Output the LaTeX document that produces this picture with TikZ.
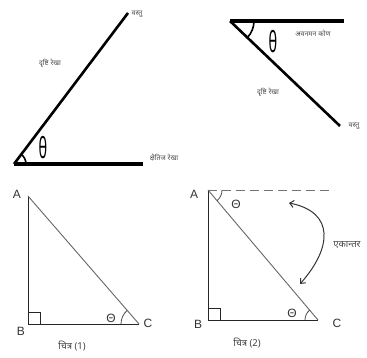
\documentclass[tikz,border=0pt]{standalone}
\usepackage{fontspec}
\setmainfont{Liberation Sans}
\newfontfamily\dev[Script=Devanagari]{Noto Sans}
\newfontfamily\thfont{Noto Sans}
\usetikzlibrary{angles,arrows.meta}
\tikzset{
  thickline/.style={line width=3.4pt,black},
  thinline/.style={line width=1pt,black!85},
  hypline/.style={line width=0.9pt,black!60},
  devlbl/.style={font=\dev\fontsize{7}{7}\selectfont,text=black!70,inner sep=0pt},
  devbig/.style={font=\dev\fontsize{9.5}{10}\selectfont,text=black!75,inner sep=0pt},
  ptlbl/.style={font=\fontsize{12}{12}\selectfont,text=black!80,inner sep=0pt},
  thsmall/.style={font=\fontsize{12}{12}\selectfont,text=black!80,inner sep=0pt},
  thbig/.style={font=\thfont\bfseries\fontsize{29}{29}\selectfont,inner sep=0pt},
  anglearc/.style={draw,line width=1.6pt},
  smallarc/.style={draw,line width=0.8pt,black!70},
}
\begin{document}
\begin{tikzpicture}[x=1pt,y=-1pt]
\useasboundingbox (0,0) rectangle (367,358);
% ---------- figure top-left ----------
\coordinate (V1) at (14,164);
\coordinate (H1) at (143,164);
\coordinate (T1) at (128,13);
\draw[thickline] (V1) -- (H1);
\draw[line width=2.6pt] (V1) -- (T1);
\pic[anglearc,angle radius=12pt] {angle=H1--V1--T1};
\node[thbig] (th1) at (43,148) {\scalebox{0.5}[1]{θ}};
\node[devlbl] (obj1) at (137,14) {वस्तु};
\node[devlbl] (los1) at (50,63) {दृष्टि रेखा};
\node[devlbl] (hor1) at (164,158) {क्षैतिज रेखा};
% ---------- figure top-right ----------
\coordinate (V2) at (230,21);
\coordinate (H2) at (344,21);
\coordinate (D2) at (340,126);
\draw[thickline] (V2) -- (H2);
\draw[line width=2.6pt] (V2) -- (D2);
\pic[anglearc,angle radius=24pt] {angle=D2--V2--H2};
\node[thbig] (th2) at (273,42) {\scalebox{0.5}[1]{θ}};
\node[devlbl] (dep) at (313,33) {अवनमन कोण};
\node[devlbl] (los2) at (268,92) {दृष्टि रेखा};
\node[devlbl] (obj2) at (354,126) {वस्तु};
% ---------- triangle 1 ----------
\coordinate (A1) at (28,196);
\coordinate (B1) at (28,324);
\coordinate (C1) at (139,324);
\draw[thinline] (A1) -- (B1) -- (C1);
\draw[hypline] (A1) -- (C1);
\draw[thinline] (B1) rectangle ++(12,-12);
\pic[smallarc,angle radius=18pt] {angle=A1--C1--B1};
\node[ptlbl] (lA1) at (17,194) {A};
\node[ptlbl] (lB1) at (21,331) {B};
\node[ptlbl] (lC1) at (148,323) {C};
\node[thsmall] (t1) at (111,318) {Θ};
\node[devbig] (cap1) at (72,346) {चित्र (1)};
% ---------- triangle 2 ----------
\coordinate (A2) at (208,190);
\coordinate (B2) at (208,320);
\coordinate (C2) at (318,320);
\coordinate (E2) at (334,190);
\draw[thinline] (A2) -- (B2) -- (C2);
\draw[hypline] (A2) -- (C2);
\draw[black!55,line width=0.9pt,dash pattern=on 9pt off 5pt] (A2) -- (E2);
\draw[thinline] (B2) rectangle ++(12,-12);
\pic[smallarc,angle radius=14pt] {angle=C2--A2--E2};
\pic[smallarc,angle radius=13pt] {angle=A2--C2--B2};
\node[ptlbl] (lA2) at (194,194) {A};
\node[ptlbl] (lB2) at (198,324) {B};
\node[ptlbl] (lC2) at (337,323) {C};
\node[thsmall] (t2) at (236,204) {Θ};
\node[thsmall] (t3) at (292,313) {Θ};
\node[devbig] (alt) at (347,245) {एकान्तर};
\node[devbig] (cap2) at (247,343) {चित्र (2)};
\coordinate (P1) at (289,203);
\coordinate (P2) at (300,284);
\draw[line width=1pt,black!80,{Straight Barb[length=4pt,width=7pt]}-{Straight Barb[length=4pt,width=7pt]}]
  (P1) .. controls (335,212) and (332,248) .. (P2);
\end{tikzpicture}
\end{document}
